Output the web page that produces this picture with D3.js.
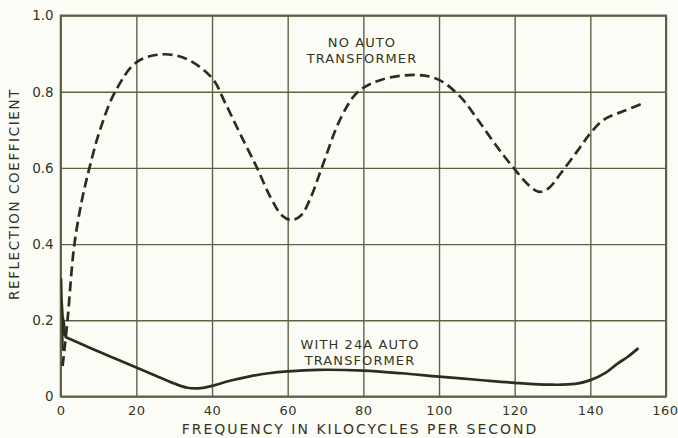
<!DOCTYPE html>
<html><head><meta charset="utf-8">
<script src="https://cdn.jsdelivr.net/npm/d3@7"></script>
<style>
html,body{margin:0;padding:0;background:#fcfcf7;}
svg{display:block;}
text{font-family:"DejaVu Sans",sans-serif;fill:#34351f;}
</style></head><body>
<svg id="chart" width="678" height="438"></svg>
<script>
// Data (frequency in kc, reflection coefficient)
const xTicks = [0,20,40,60,80,100,120,140,160];
const yTicks = [0,0.2,0.4,0.6,0.8,1.0];
const yTickLabels = ["0","0.2","0.4","0.6","0.8","1.0"];
const noAutoFreq = [0.5,1.8,3.5,5.5,7.6,10.4,14.4,20,26.7,33,40,43.5,47.4,51.9,55.4,58.5,61,63.5,66,69,74,78.6,85,94.2,100,105.6,110,115,119.7,124,126.4,129,132.5,137,140,143.5,149,154.1];
const noAutoRefl = [0.08,0.2,0.39,0.51,0.6,0.7,0.8,0.877,0.898,0.887,0.836,0.77,0.69,0.6,0.524,0.475,0.463,0.475,0.52,0.6,0.73,0.8,0.832,0.844,0.831,0.787,0.73,0.66,0.6,0.552,0.537,0.547,0.59,0.65,0.691,0.726,0.75,0.77];
const withAutoFreq = [1.1,5,10,15,20,25,30,33.5,37,40,45,50,55,60,68,80,90,100,110,120,129.5,136,140,144,147,150,152.7];
const withAutoRefl = [0.157,0.14,0.118,0.097,0.076,0.055,0.034,0.023,0.022,0.028,0.042,0.053,0.061,0.066,0.07,0.068,0.061,0.052,0.044,0.036,0.031,0.033,0.043,0.062,0.085,0.105,0.127];
const spikeFreq = [0.2,0.6,0.3,0.9,0.4,1.0,1.1];
const spikeRefl = [0.31,0.12,0.26,0.16,0.22,0.19,0.157];
const xTitle = "FREQUENCY IN KILOCYCLES PER SECOND";
const yTitle = "REFLECTION COEFFICIENT";

const svg = d3.select("#chart");
const L = 60.7, R = 666, T = 15.5, B = 396.5;
const x = d3.scaleLinear().domain([0,160]).range([L,R]);
const y = d3.scaleLinear().domain([0,1]).range([B,T]);
const ink = "#2b2e1c", grid = "#5f6144";

// grid
const gx = svg.append("g").attr("transform",`translate(0,${B})`)
  .call(d3.axisBottom(x).tickValues(xTicks).tickSize(-(B-T)).tickPadding(9).tickFormat(d=>String(d)));
gx.select(".domain").remove();
gx.selectAll(".tick line").attr("stroke",grid).attr("stroke-width",1.4);
gx.selectAll(".tick text").attr("font-size",13).attr("fill","#34351f").attr("font-family","DejaVu Sans").attr("letter-spacing",0.5);
gx.selectAll(".tick").filter(d=>d===160).select("text").attr("text-anchor","end").attr("dx",12);

const gy = svg.append("g").attr("transform",`translate(${L},0)`)
  .call(d3.axisLeft(y).tickValues(yTicks).tickSize(-(R-L)).tickPadding(7).tickFormat((d,i)=>yTickLabels[i]));
gy.select(".domain").remove();
gy.selectAll(".tick line").attr("stroke",grid).attr("stroke-width",1.4);
gy.selectAll(".tick text").attr("font-size",13.5).attr("fill","#34351f").attr("font-family","DejaVu Sans");

// frame
svg.append("rect").attr("x",L).attr("y",T).attr("width",R-L).attr("height",B-T)
  .attr("fill","none").attr("stroke",grid).attr("stroke-width",2);

const line = d3.line().x(d=>x(d[0])).y(d=>y(d[1])).curve(d3.curveCatmullRom.alpha(0.5));
svg.append("path").datum(d3.zip(noAutoFreq,noAutoRefl)).attr("d",line)
  .attr("fill","none").attr("stroke",ink).attr("stroke-width",2.7).attr("stroke-dasharray","10,5");
svg.append("path").datum(d3.zip(withAutoFreq,withAutoRefl)).attr("d",line)
  .attr("fill","none").attr("stroke",ink).attr("stroke-width",2.7);
svg.append("path").datum(d3.zip(spikeFreq,spikeRefl)).attr("d",d3.line().x(d=>x(d[0])).y(d=>y(d[1])))
  .attr("fill","none").attr("stroke",ink).attr("stroke-width",1.8);

// annotations
function label(lines, cx, y0, dy){
  lines.forEach((t,i)=>svg.append("text").attr("x",cx).attr("y",y0+i*dy).attr("text-anchor","middle")
    .attr("font-size",13).attr("letter-spacing",1.1).text(t));
}
label(["NO AUTO","TRANSFORMER"], 362, 47, 16.3);
label(["WITH 24A AUTO","TRANSFORMER"], 360, 349, 16.3);

svg.append("text").attr("x",360).attr("y",433.5).attr("text-anchor","middle")
  .attr("font-size",14).attr("letter-spacing",2).text(xTitle);
svg.append("text").attr("transform","translate(18.5,194) rotate(-90)").attr("text-anchor","middle")
  .attr("font-size",13.5).attr("letter-spacing",1.6).text(yTitle);
</script>
</body></html>
